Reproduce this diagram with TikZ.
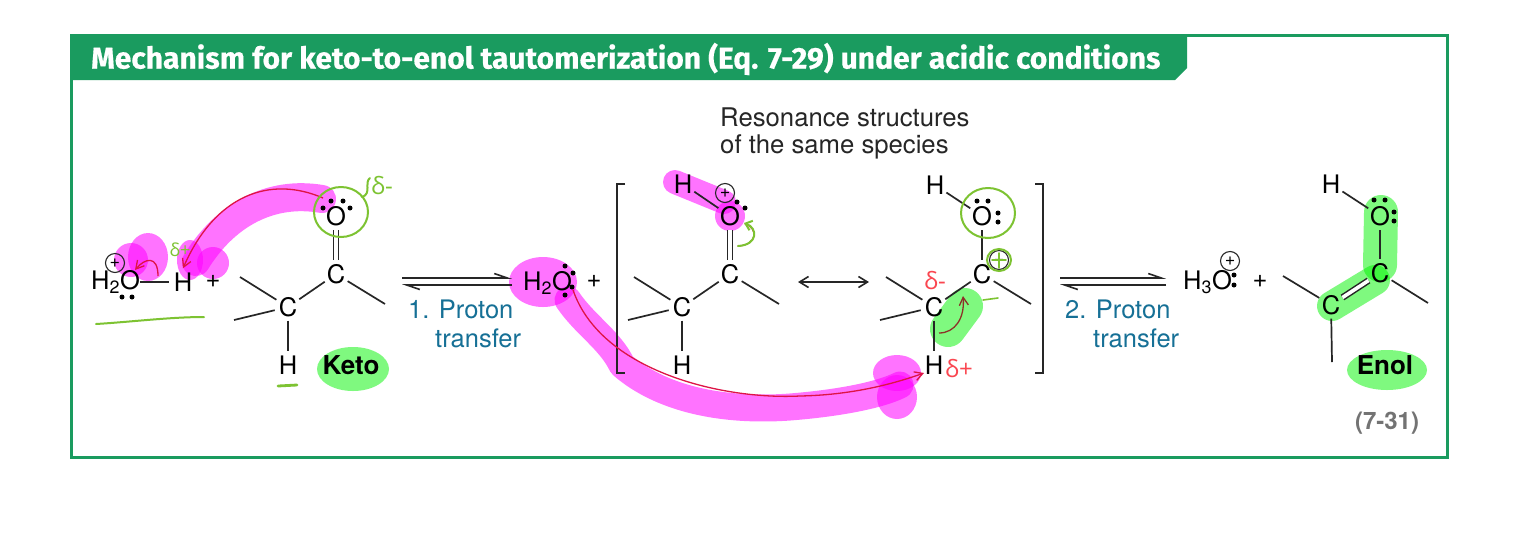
\documentclass[tikz,border=0pt]{standalone}
\usepackage{fontspec}
\setmainfont{TeX Gyre Heros}
\newfontfamily\greekfont{Open Sans}
\newfontfamily\titlefont[BoldFeatures={FakeBold=0.5}]{Fira Sans}
\usetikzlibrary{arrows.meta,calc}
\definecolor{framegreen}{RGB}{26,155,95}
\definecolor{teal}{RGB}{22,112,150}
\definecolor{penred}{RGB}{222,20,70}
\definecolor{pengreen}{RGB}{125,195,50}
\definecolor{notered}{RGB}{250,70,80}
\definecolor{brownred}{RGB}{140,50,40}
\definecolor{hlpink}{RGB}{255,0,255}
\definecolor{hlgreen}{RGB}{0,245,0}
\tikzset{
  x=1pt,y=-1pt,
  atom/.style={circle,inner sep=0pt,minimum size=27pt,font=\fontsize{25.5}{25.5}\selectfont},
  tight/.style={inner sep=0pt,font=\fontsize{25.5}{25.5}\selectfont},
  bond/.style={line width=1.7pt,black!85},
  dbond/.style={line width=1.5pt,double,double distance=3.6pt,black!85},
  lp/.style={circle,fill=black,inner sep=0pt,minimum size=5pt},
  chg/.style={circle,draw=black!85,line width=1.1pt,inner sep=0pt,minimum size=19pt,font=\fontsize{18}{18}\selectfont},
  pinkhl/.style={draw=hlpink,line width=#1,line cap=round,line join=round,opacity=.55},
  greenhl/.style={draw=hlgreen,line width=#1,line cap=round,line join=round,opacity=.5},
  pinkblob/.style={fill=hlpink,opacity=.55},
  greenblob/.style={fill=hlgreen,opacity=.5},
  redarrow/.style={draw=penred,line width=1.3pt,-{Straight Barb[length=8pt,width=9pt]}},
  pen/.style={draw=pengreen,line width=2pt,line cap=round},
  step label/.style={anchor=west,inner sep=0pt,text=teal,font=\fontsize{25.5}{25.5}\selectfont},
  delta/.style={font=\fontsize{24}{24}\selectfont\greekfont},
  bracket/.style={draw=black!85,line width=1.7pt},
  eqtop/.style={line width=1.6pt,black!85,-{Straight Barb[left,length=13pt,width=9pt]}},
  plus sign/.style={font=\fontsize{25.5}{25.5}\selectfont},
  caption/.style={anchor=west,inner sep=0pt,font=\fontsize{25.7}{25.7}\selectfont,text=black!85}
}
\newcommand{\skel}[2]{%
  \begin{scope}[xshift=#2pt]
  \node[atom] (#1c1) at (288,307) {C};
  \node[atom] (#1c2) at (336,274) {C};
  \node[atom] (#1o) at (336,216) {O};
  \node[atom] (#1hb) at (288,365) {H};
  \coordinate (#1a) at (240,277);
  \coordinate (#1b) at (234,320);
  \coordinate (#1d) at (385,304);
  \draw[bond] (#1c1) -- (#1c2);
  \draw[bond] (#1c1) -- (#1a);
  \draw[bond] (#1c1) -- (#1b);
  \draw[bond] (#1c2) -- (#1d);
  \draw[bond] (#1c1) -- (#1hb);
  \end{scope}}
\begin{document}
\begin{tikzpicture}
\useasboundingbox (0,0) rectangle (1522,542);
\fill[white] (0,0) rectangle (1522,542);
% frame and banner
\draw[framegreen,line width=3pt] (71,35) rectangle (1447,457);
\fill[framegreen] (71,35) -- (1187,35) -- (1187,68) -- (1175,80) -- (71,80) -- cycle;
\node[anchor=west,inner sep=0pt,text=white,font=\fontsize{30}{30}\selectfont\titlefont\bfseries] (title) at (91,59) {Mechanism for keto-to-enol tautomerization (Eq. 7-29) under acidic conditions};
% highlights
\fill[pinkblob] (131,260) ellipse [x radius=17,y radius=17];
\fill[pinkblob] (148,257) ellipse [x radius=20,y radius=24];
\draw[pinkhl=28pt] (322,199) .. controls (270,190) and (225,215) .. (196,262);
\fill[pinkblob] (190,260) ellipse [x radius=13,y radius=20];
\fill[pinkblob] (213,263) ellipse [x radius=16,y radius=16];
\fill[greenblob] (353,369) ellipse [x radius=36,y radius=22];
\fill[pinkblob] (543,282) ellipse [x radius=34,y radius=25];
\draw[pinkhl=27pt] (568,300) .. controls (585,325) and (610,340) .. (622,365) .. controls (660,398) and (720,412) .. (790,407) .. controls (840,403) and (880,395) .. (900,385);
\fill[pinkblob] (897,373) ellipse [x radius=24,y radius=18];
\fill[pinkblob] (897,397) ellipse [x radius=20,y radius=22];
\draw[pinkhl=24pt] (675,182) -- (724,202);
\fill[pinkblob] (730,216) circle (15);
\draw[greenhl=36pt] (948,329) -- (965,306);
\draw[greenhl=34pt] (1381,212) -- (1380,265);
\draw[greenhl=30pt] (1332,306) -- (1375,280);
\fill[greenblob] (1387,370) ellipse [x radius=40,y radius=20];
% left water
\node[tight,anchor=west] (w1) at (91,282) {H\textsubscript{2}O};
\node[atom] (h1) at (183,282) {H};
\draw[bond] (w1) -- (h1);
\node[lp] (w1a) at (122,297) {};
\node[lp] (w1b) at (132,297) {};
\node[chg] (w1c) at (115,263) {+};
\node[plus sign] (p1) at (213,281) {+};
% keto
\skel{k}{0}
\draw[dbond] (ko) -- (kc2);
\node[lp] (kl1) at (331,201) {};
\node[lp] (kl2) at (343,201) {};
\node[lp] (kl3) at (323,208) {};
\node[lp] (kl4) at (350,208) {};
\node[font=\fontsize{26}{26}\selectfont\bfseries] (keto) at (351,365) {Keto};
% arrows 1
\coordinate (e1a) at (402,278); \coordinate (e1b) at (512,278);
\coordinate (e1c) at (512,285); \coordinate (e1d) at (402,285);
\draw[eqtop] (e1a) -- (e1b);
\draw[eqtop] (e1c) -- (e1d);
\node[step label] (s1a) at (408,309) {1. Proton};
\node[step label] (s1b) at (435,338) {transfer};
% middle water
\node[tight,anchor=west] (w2) at (523,283) {H\textsubscript{2}O};
\node[lp] (w2a) at (565,266) {};
\node[lp] (w2b) at (573,273) {};
\node[lp] (w2c) at (572,287) {};
\node[lp] (w2d) at (565,295) {};
\node[plus sign] (p2) at (594,281) {+};
% brackets
\draw[bracket] (625,184) -- (617,184) -- (617,373) -- (625,373);
\draw[bracket] (1035,184) -- (1043,184) -- (1043,373) -- (1035,373);
% resonance 1
\skel{m}{394}
\draw[dbond] (mo) -- (mc2);
\node[atom] (mh) at (683,184) {H};
\draw[bond] (mh) -- (mo);
\node[chg] (mchg) at (725,193) {+};
\node[lp] (ml1) at (737,202) {};
\node[lp] (ml2) at (745,208) {};
% double arrow
\coordinate (ra) at (798,282); \coordinate (rb) at (869,282);
\draw[line width=1.6pt,black!85,{Straight Barb[length=9pt,width=11pt]}-{Straight Barb[length=9pt,width=11pt]}] (ra) -- (rb);
% resonance 2
\skel{r}{646}
\draw[bond] (ro) -- (rc2);
\node[atom] (rh) at (935,185) {H};
\draw[bond] (rh) -- (ro);
\node[lp] (rl1) at (977,201) {};
\node[lp] (rl2) at (988,201) {};
\node[lp] (rl3) at (998,213) {};
\node[lp] (rl4) at (998,222) {};
\node[chg] (rchg) at (999,260) {+};
% arrows 2
\coordinate (e2a) at (1060,278); \coordinate (e2b) at (1166,278);
\coordinate (e2c) at (1166,285); \coordinate (e2d) at (1060,285);
\draw[eqtop] (e2a) -- (e2b);
\draw[eqtop] (e2c) -- (e2d);
\node[step label] (s2a) at (1065,309) {2. Proton};
\node[step label] (s2b) at (1093,338) {transfer};
% H3O
\node[tight,anchor=west] (w3) at (1183,282) {H\textsubscript{3}O};
\node[chg] (w3c) at (1230,261) {+};
\node[lp] (w3a) at (1234,275) {};
\node[lp] (w3b) at (1234,285) {};
\node[plus sign] (p3) at (1260,281) {+};
% enol
\node[atom] (ec1) at (1331,305) {C};
\node[atom] (ec2) at (1380,273) {C};
\node[atom] (eo) at (1380,216) {O};
\node[atom] (eh) at (1331,184) {H};
\coordinate (ea) at (1283,276);
\coordinate (eb) at (1428,303);
\coordinate (ed) at (1332,362);
\draw[bond] (ec1) -- (ea);
\draw[bond] (ec2) -- (eb);
\draw[bond] (ec1) -- (ed);
\draw[bond] (eo) -- (ec2);
\draw[bond] (eh) -- (eo);
\draw[dbond] (ec1) -- (ec2);
\node[lp] (el1) at (1374,200) {};
\node[lp] (el2) at (1385,200) {};
\node[lp] (el3) at (1394,212) {};
\node[lp] (el4) at (1394,221) {};
\node[font=\fontsize{26}{26}\selectfont\bfseries] (enol) at (1385,365) {Enol};
\node[text=black!55,font=\fontsize{24}{24}\selectfont\bfseries] (eqno) at (1387,423) {(7-31)};
% caption
\node[caption] (c1) at (720,117) {Resonance structures};
\node[caption] (c2) at (720,147) {of the same species};
% red curved arrows
\coordinate (ka) at (323,198);
\draw[redarrow] (ka) .. controls (270,175) and (215,195) .. (h1.north);
\coordinate (sa) at (158,276);
\draw[redarrow] (sa) .. controls (158,255) and (145,258) .. (135,270);
\draw[redarrow] (w2c) .. controls (600,370) and (720,400) .. (800,396) .. controls (850,395) and (890,385) .. (924,373);
\draw[redarrow,draw=brownred] (939,333) .. controls (955,333) and (965,318) .. (963,296);
% pen marks
\draw[pen] (96,324) .. controls (130,322) and (170,317) .. (204,317);
\draw[pen,line width=2.8pt] (278,386) -- (297,385);
\draw[pen] (341,212) ellipse [x radius=27,y radius=25];
\draw[pen] (362,197) .. controls (372,194) and (364,182) .. (370,178);
\node[delta,text=pengreen] (d1) at (382,186) {δ-};
\node[delta,text=pengreen,font=\fontsize{18}{18}\selectfont\greekfont] (d2) at (180,250) {δ+};
\draw[pen,draw=penred,line width=1.2pt] (738,246) .. controls (758,245) and (758,228) .. (745,224);
\draw[pen,-{Straight Barb[length=6pt,width=10pt]}] (738,246) .. controls (758,245) and (758,228) .. (744,223);
\draw[pen] (988,213) ellipse [x radius=27,y radius=25];
\draw[pen] (999,260) ellipse [x radius=12,y radius=11];
\draw[pen,line width=1.6pt] (983,300) -- (998,298);
\draw[pen,line width=1.6pt] (999,253) -- (999,268);
\draw[pen,line width=1.6pt] (992,260) -- (1006,260);
\node[delta,text=notered] (d3) at (935,281) {δ-};
\node[delta,text=notered] (d4) at (959,369) {δ+};
\end{tikzpicture}
\end{document}
